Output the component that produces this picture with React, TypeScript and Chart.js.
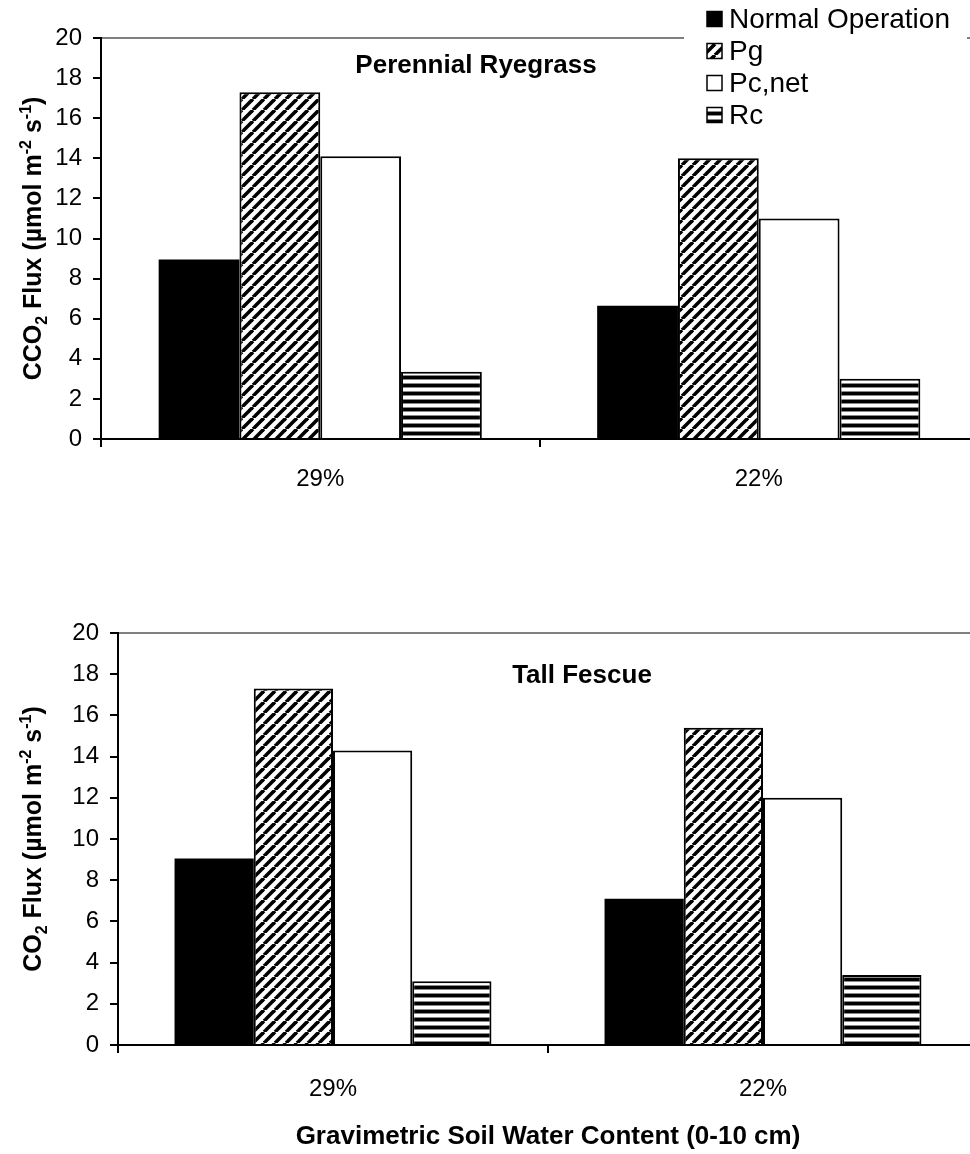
import React, { useEffect, useRef } from 'react';
import { Chart, registerables } from 'chart.js';

Chart.register(...registerables);

// ---------- data ----------
const categories = ['29%', '22%'];
const seriesNames = ['Normal Operation', 'Pg', 'Pc,net', 'Rc'];
const yTickStep = 2;
const yMin = 0;
const yMax = 20;

const ryegrassNormal = [8.95, 6.65];
const ryegrassPg = [17.3, 14.0];
const ryegrassPcNet = [14.1, 11.0];
const ryegrassRc = [3.35, 3.0];

const fescueNormal = [9.05, 7.1];
const fescuePg = [17.3, 15.4];
const fescuePcNet = [14.3, 12.0];
const fescueRc = [3.1, 3.4];

const topTitle = 'Perennial Ryegrass';
const bottomTitle = 'Tall Fescue';
const xAxisTitle = 'Gravimetric Soil Water Content (0-10 cm)';
type Seg = { t: 'n' | 'sub' | 'sup'; x: string };
const topYTitle: Seg[] = [
  { t: 'n', x: 'CCO' }, { t: 'sub', x: '2' }, { t: 'n', x: ' Flux (µmol m' },
  { t: 'sup', x: '-2' }, { t: 'n', x: ' s' }, { t: 'sup', x: '-1' }, { t: 'n', x: ')' },
];
const bottomYTitle: Seg[] = [
  { t: 'n', x: 'CO' }, { t: 'sub', x: '2' }, { t: 'n', x: ' Flux (µmol m' },
  { t: 'sup', x: '-2' }, { t: 'n', x: ' s' }, { t: 'sup', x: '-1' }, { t: 'n', x: ')' },
];

const FONT = '"Liberation Sans", Arial, Helvetica, sans-serif';

function makeDiagonal(): CanvasPattern | string {
  const size = 11;
  const c = document.createElement('canvas');
  c.width = size; c.height = size;
  const g = c.getContext('2d');
  if (!g) return '#888';
  g.fillStyle = '#fff';
  g.fillRect(0, 0, size, size);
  g.strokeStyle = '#000';
  g.lineWidth = 3.6;
  for (const x0 of [-size, 0, size]) {
    g.beginPath();
    g.moveTo(x0, size);
    g.lineTo(x0 + size, 0);
    g.stroke();
  }
  return g.createPattern(c, 'repeat') || '#888';
}

function makeHorizontal(): CanvasPattern | string {
  const w = 8, h = 8;
  const c = document.createElement('canvas');
  c.width = w; c.height = h;
  const g = c.getContext('2d');
  if (!g) return '#888';
  g.fillStyle = '#fff';
  g.fillRect(0, 0, w, h);
  g.fillStyle = '#000';
  g.fillRect(0, 0, w, 3);
  g.fillStyle = '#888';
  g.fillRect(0, 3, w, 1);
  g.fillRect(0, 7, w, 1);
  return g.createPattern(c, 'repeat') || '#888';
}

function drawRich(ctx: CanvasRenderingContext2D, segs: Seg[], cx: number, cy: number, size: number) {
  ctx.save();
  ctx.translate(cx, cy);
  ctx.rotate(-Math.PI / 2);
  ctx.fillStyle = '#000';
  ctx.textBaseline = 'alphabetic';
  ctx.textAlign = 'left';
  const small = Math.round(size * 0.62);
  const fontFor = (s: Seg) => `bold ${s.t === 'n' ? size : small}px ${FONT}`;
  let total = 0;
  for (const s of segs) {
    ctx.font = fontFor(s);
    total += ctx.measureText(s.x).width;
  }
  let x = -total / 2;
  const base = size * 0.36;
  for (const s of segs) {
    ctx.font = fontFor(s);
    const dy = s.t === 'sub' ? size * 0.25 : s.t === 'sup' ? -size * 0.42 : 0;
    ctx.fillText(s.x, x, base + dy);
    x += ctx.measureText(s.x).width;
  }
  ctx.restore();
}

function buildConfig(opts: {
  values: number[][];
  patterns: (string | CanvasPattern)[];
  padTop: number;
  yWidth: number;
  xHeight: number;
  xTickPad: number;
  extra: (chart: Chart) => void;
}): any {
  const datasets = seriesNames.map((name, i) => ({
    label: name,
    data: opts.values[i],
    backgroundColor: opts.patterns[i],
    borderColor: '#000',
    borderWidth: i === 0 ? 0 : 2,
    categoryPercentage: 0.737,
    barPercentage: 1,
  }));
  return {
    type: 'bar',
    data: { labels: categories, datasets },
    options: {
      responsive: false,
      animation: false,
      devicePixelRatio: 1,
      layout: { padding: { left: 0, right: 0, top: opts.padTop, bottom: 0 } },
      plugins: {
        legend: { display: false },
        tooltip: { enabled: false },
        title: { display: false },
      },
      scales: {
        x: {
          grid: {
            offset: true,
            drawOnChartArea: false,
            drawTicks: true,
            tickLength: 8,
            tickColor: '#000',
            tickWidth: 2,
            lineWidth: 2,
          },
          border: { display: true, color: '#000', width: 2 },
          ticks: { color: '#000', font: { family: FONT, size: 24 }, padding: opts.xTickPad, maxRotation: 0 },
          afterFit: (s: any) => { s.height = opts.xHeight; },
        },
        y: {
          min: yMin,
          max: yMax,
          ticks: { stepSize: yTickStep, color: '#000', font: { family: FONT, size: 24 }, padding: 11, autoSkip: false },
          grid: {
            color: (c: any) => (c.tick && c.tick.value === yMax ? '#808080' : 'rgba(0,0,0,0)'),
            lineWidth: 2,
            tickColor: '#000',
            tickLength: 8,
            drawTicks: true,
          },
          border: { display: true, color: '#000', width: 2 },
          afterFit: (s: any) => { s.width = opts.yWidth; },
        },
      },
    },
    plugins: [
      {
        id: 'extraText',
        afterDraw: (chart: Chart) => opts.extra(chart),
      },
    ],
  };
}

export default function App() {
  const topRef = useRef<HTMLCanvasElement | null>(null);
  const botRef = useRef<HTMLCanvasElement | null>(null);

  useEffect(() => {
    if (!topRef.current || !botRef.current) return;
    const diag = makeDiagonal();
    const horiz = makeHorizontal();
    const patterns = ['#000', diag, '#fff', horiz];

    const topChart = new Chart(
      topRef.current,
      buildConfig({
        values: [ryegrassNormal, ryegrassPg, ryegrassPcNet, ryegrassRc],
        patterns,
        padTop: 38,
        yWidth: 101,
        xHeight: 131,
        xTickPad: 18,
        extra: (chart) => {
          const ctx = chart.ctx;
          const area = chart.chartArea;
          // legend
          ctx.save();
          ctx.fillStyle = '#fff';
          ctx.fillRect(684, 0, 283, 131);
          seriesNames.forEach((name, i) => {
            const cy = 19 + 32 * i;
            ctx.fillStyle = patterns[i] as any;
            ctx.fillRect(707, cy - 7.5, 15, 15);
            ctx.strokeStyle = '#000';
            ctx.lineWidth = 1.5;
            ctx.strokeRect(707, cy - 7.5, 15, 15);
            ctx.fillStyle = '#000';
            ctx.font = `28px ${FONT}`;
            ctx.textAlign = 'left';
            ctx.textBaseline = 'middle';
            ctx.fillText(name, 729, cy + 1);
          });
          // panel title
          ctx.font = `bold 26px ${FONT}`;
          ctx.textAlign = 'center';
          ctx.textBaseline = 'middle';
          ctx.fillText(topTitle, 476, 66);
          ctx.restore();
          drawRich(ctx, topYTitle, 32, (area.top + area.bottom) / 2, 25);
        },
      })
    );

    const botChart = new Chart(
      botRef.current,
      buildConfig({
        values: [fescueNormal, fescuePg, fescuePcNet, fescueRc],
        patterns,
        padTop: 63,
        yWidth: 118,
        xHeight: 109,
        xTickPad: 22,
        extra: (chart) => {
          const ctx = chart.ctx;
          const area = chart.chartArea;
          ctx.save();
          ctx.fillStyle = '#000';
          ctx.font = `bold 26px ${FONT}`;
          ctx.textAlign = 'center';
          ctx.textBaseline = 'middle';
          ctx.fillText(bottomTitle, 582, 106);
          ctx.font = `bold 26px ${FONT}`;
          ctx.fillText(xAxisTitle, 548, 567);
          ctx.restore();
          drawRich(ctx, bottomYTitle, 32, (area.top + area.bottom) / 2, 25);
        },
      })
    );

    return () => {
      topChart.destroy();
      botChart.destroy();
    };
  }, []);

  return (
    <div
      style={{
        position: 'absolute',
        left: 0,
        top: 0,
        width: 970,
        height: 1154,
        overflow: 'hidden',
        background: '#fff',
      }}
    >
      <canvas ref={topRef} width={978} height={570} style={{ position: 'absolute', left: 0, top: 0 }} />
      <canvas ref={botRef} width={978} height={584} style={{ position: 'absolute', left: 0, top: 570 }} />
    </div>
  );
}
